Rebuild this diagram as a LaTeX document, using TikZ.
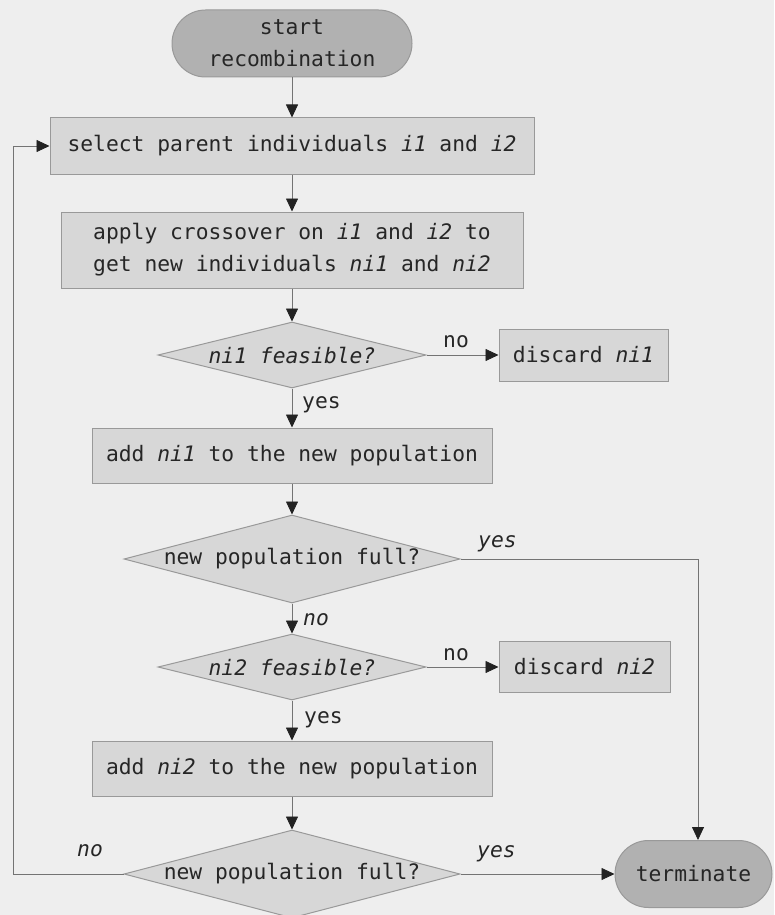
\documentclass[tikz,border=0pt]{standalone}
\usepackage{fontspec}
\setmonofont{DejaVu Sans Mono}[ItalicFont={DejaVu Sans Mono Oblique}]
\usetikzlibrary{shapes.geometric,shapes.misc,arrows.meta}
\definecolor{paper}{HTML}{EEEEEE}
\definecolor{boxfill}{HTML}{D7D7D7}
\definecolor{termfill}{HTML}{B1B1B1}
\definecolor{edge}{HTML}{999999}
\definecolor{wire}{HTML}{737373}
\definecolor{tipcol}{HTML}{222222}
\definecolor{ink}{HTML}{262626}
\begin{document}
\begin{tikzpicture}[x=1pt,y=-1pt,
  every node/.style={font=\ttfamily\fontsize{21.3}{32}\selectfont, text=ink},
  proc/.style={rectangle, draw=edge, fill=boxfill, line width=1pt, inner sep=0pt, align=center},
  termbox/.style={rounded rectangle, draw=edge, fill=termfill, line width=1pt, inner sep=0pt, align=center},
  test/.style={diamond, draw=edge, fill=boxfill, line width=1pt, inner sep=0pt},
  flow/.style={draw=wire, line width=0.8pt, -{Triangle[length=13pt,width=12pt,color=tipcol]}},
  lbl/.style={anchor=base west, inner sep=0pt}]
  \fill[paper] (0,0) rectangle (774,915);
  \useasboundingbox (0,0) rectangle (774,915);

  % main column, all centred on x = 292
  \node[termbox, minimum width=240pt, minimum height=67pt] (start) at (292,43.5) {start\\recombination};
  \node[proc, minimum width=484pt, minimum height=56pt] (select) at (292,146) {select parent individuals \textit{i1} and \textit{i2}};
  \node[proc, minimum width=462pt, minimum height=76pt] (apply) at (292,250) {apply crossover on \textit{i1} and \textit{i2} to\\get new individuals \textit{ni1} and \textit{ni2}};
  \node[test, minimum width=268pt, minimum height=66pt] (feas1) at (292,355) {\makebox[0pt]{\textit{ni1 feasible?}}};
  \node[proc, minimum width=169pt, minimum height=52pt] (drop1) at (583.5,355) {discard \textit{ni1}};
  \node[proc, minimum width=400pt, minimum height=55pt] (add1) at (292,455.5) {add \textit{ni1} to the new population};
  \node[test, minimum width=336pt, minimum height=88pt] (full1) at (292,559) {\makebox[0pt]{new population full?}};
  \node[test, minimum width=268pt, minimum height=66pt] (feas2) at (292,667) {\makebox[0pt]{\textit{ni2 feasible?}}};
  \node[proc, minimum width=171pt, minimum height=51pt] (drop2) at (584.5,667) {discard \textit{ni2}};
  \node[proc, minimum width=400pt, minimum height=55pt] (add2) at (292,768.5) {add \textit{ni2} to the new population};
  \node[test, minimum width=336pt, minimum height=88pt] (full2) at (292,874) {\makebox[0pt]{new population full?}};
  \node[termbox, minimum width=157pt, minimum height=67pt] (term) at (693.5,874) {terminate};

  \coordinate (termtop) at ([xshift=4.5pt]term.north);
  \coordinate (back) at (13,874);

  % connectors
  \draw[flow] (start.south) -- (select.north);
  \draw[flow] (select.south) -- (apply.north);
  \draw[flow] (apply.south) -- (feas1.north);
  \draw[flow] (feas1.east) -- (drop1.west);
  \draw[flow] (feas1.south) -- (add1.north);
  \draw[flow] (add1.south) -- (full1.north);
  \draw[flow] (full1.east) -| (termtop);
  \draw[flow] (full1.south) -- (feas2.north);
  \draw[flow] (feas2.east) -- (drop2.west);
  \draw[flow] (feas2.south) -- (add2.north);
  \draw[flow] (add2.south) -- (full2.north);
  \draw[flow] (full2.east) -- (term.west);
  \draw[flow] (full2.west) -- (back) |- (select.west);

  % branch labels
  \node[lbl] (l1) at (443,347) {no};
  \node[lbl] (l2) at (302,408) {yes};
  \node[lbl] (l3) at (478,547) {\textit{yes}};
  \node[lbl] (l4) at (303,625) {\textit{no}};
  \node[lbl] (l5) at (443,660) {no};
  \node[lbl] (l6) at (304,723) {yes};
  \node[lbl] (l7) at (77,856) {\textit{no}};
  \node[lbl] (l8) at (477,857) {\textit{yes}};
\end{tikzpicture}
\end{document}
